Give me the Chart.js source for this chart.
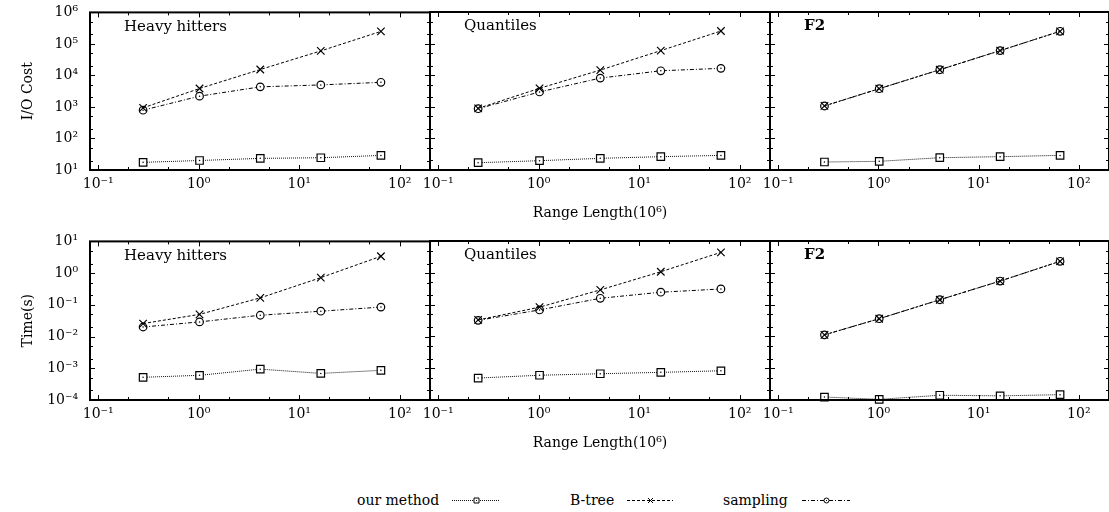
<!DOCTYPE html>
<html><head><meta charset="utf-8">
<script src="https://cdn.jsdelivr.net/npm/chart.js@4.4.1/dist/chart.umd.min.js"></script>
<style>
html,body{margin:0;padding:0;background:#fff;overflow:hidden;width:1109px;height:512px;}
#wrap{position:relative;width:1109px;height:512px;overflow:hidden;background:#fff;}
.pan{position:absolute;}
.leg{position:absolute;font-family:"DejaVu Serif",serif;font-size:14px;line-height:16px;color:#000;white-space:nowrap;}
</style></head><body><div id="wrap"></div>
<script>
// ---- data ----
const seriesNames = ['our method', 'B-tree', 'sampling'];
const panelNames = ['Heavy hitters', 'Quantiles', 'F2'];
const rowTitles = ['I/O Cost', 'Time(s)'];
const xTitle = 'Range Length(10⁶)';

const hhX = [0.28, 1.02, 4.1, 16.4, 65];
const qX  = [0.25, 1.02, 4.1, 16.4, 65];
const f2X = [0.29, 1.02, 4.1, 16.4, 65];

const hhIoOur      = [17.5, 20, 23.4, 24.5, 29];
const hhIoBtree    = [940, 3850, 15400, 60000, 250000];
const hhIoSampling = [790, 2200, 4350, 5000, 6050];
const qIoOur       = [17, 19.7, 23.4, 26.4, 29];
const qIoBtree     = [890, 3850, 14500, 60000, 250000];
const qIoSampling  = [870, 2950, 8100, 13800, 16500];
const f2IoOur      = [17.9, 18.8, 24.5, 26.4, 29];
const f2IoBtree    = [1070, 3740, 14900, 60000, 245000];
const f2IoSampling = [1060, 3740, 14900, 60000, 245000];

const hhTimeOur      = [0.00052, 0.0006, 0.00094, 0.00069, 0.00086];
const hhTimeBtree    = [0.0257, 0.05, 0.166, 0.72, 3.4];
const hhTimeSampling = [0.020, 0.029, 0.047, 0.063, 0.085];
const qTimeOur       = [0.00049, 0.0006, 0.00067, 0.00074, 0.00083];
const qTimeBtree     = [0.033, 0.083, 0.29, 1.08, 4.4];
const qTimeSampling  = [0.032, 0.068, 0.158, 0.245, 0.31];
const f2TimeOur      = [0.000124, 0.000105, 0.000141, 0.000135, 0.000147];
const f2TimeBtree    = [0.0112, 0.036, 0.142, 0.55, 2.3];
const f2TimeSampling = [0.0112, 0.036, 0.142, 0.55, 2.3];

const xTickValues = [0.1, 1, 10, 100];
const xTickLabels = ['10⁻¹', '10⁰', '10¹', '10²'];
const ioTickValues = [10, 100, 1000, 10000, 100000, 1000000];
const ioTickLabels = ['10¹', '10²', '10³', '10⁴', '10⁵', '10⁶'];
const timeTickValues = [0.0001, 0.001, 0.01, 0.1, 1, 10];
const timeTickLabels = ['10⁻⁴', '10⁻³', '10⁻²', '10⁻¹', '10⁰', '10¹'];

// ---- styles ----
const FONT = '"DejaVu Serif", serif';
const styles = [
  { dash: [1, 1], point: 'rect', radius: 5.3, color: '#111', dot: true },
  { dash: [3, 2], point: 'crossRot', radius: 5.3, color: '#000', dot: false },
  { dash: [4, 2, 1, 2], point: 'circle', radius: 3.8, color: '#000', dot: true }
];

function minorVals(lo, hi) {
  const out = [];
  for (let e = Math.floor(Math.log10(lo)); e <= Math.ceil(Math.log10(hi)); e++) {
    [2, 5].forEach(k => { const v = k * Math.pow(10, e); if (v > lo * 1.0001 && v < hi * 0.9999) out.push(v); });
  }
  return out;
}

const dotPlugin = {
  id: 'dots',
  afterDatasetsDraw(chart) {
    const ctx = chart.ctx;
    ctx.save(); ctx.fillStyle = '#000';
    chart.data.datasets.forEach((ds, i) => {
      if (!styles[i].dot) return;
      chart.getDatasetMeta(i).data.forEach(el => {
        ctx.beginPath(); ctx.arc(el.x, el.y, 0.75, 0, Math.PI * 2); ctx.fill();
      });
    });
    ctx.restore();
  }
};

const framePlugin = {
  id: 'frame',
  afterDraw(chart) {
    const { ctx, chartArea: a, scales: { x, y } } = chart;
    const o = chart.options.plugins.frame;
    ctx.save();
    ctx.strokeStyle = '#000'; ctx.lineWidth = 1;
    ctx.beginPath();
    const tx = (v, L) => { const p = Math.round(x.getPixelForValue(v)) + 0.5; if (p < a.left || p > a.right) return;
      ctx.moveTo(p, a.bottom); ctx.lineTo(p, a.bottom - L); ctx.moveTo(p, a.top); ctx.lineTo(p, a.top + L); };
    const ty = (v, L) => { const p = Math.round(y.getPixelForValue(v)) + 0.5; if (p < a.top || p > a.bottom) return;
      ctx.moveTo(a.left, p); ctx.lineTo(a.left + L, p); ctx.moveTo(a.right, p); ctx.lineTo(a.right - L, p); };
    xTickValues.forEach(v => tx(v, 5));
    minorVals(x.min, x.max).forEach(v => tx(v, 3));
    o.yMajor.forEach(v => ty(v, 5));
    minorVals(y.min, y.max).forEach(v => ty(v, 3));
    ctx.stroke();
    ctx.lineWidth = 2;
    ctx.strokeRect(a.left, a.top, a.right - a.left, a.bottom - a.top);
    ctx.fillStyle = '#000';
    ctx.font = (o.bold ? 'bold ' : '') + '15px ' + FONT;
    ctx.textBaseline = 'middle'; ctx.textAlign = 'left';
    ctx.fillText(o.name, a.left + 34, a.top + 14.5);
    ctx.restore();
  }
};

const wrap = document.getElementById('wrap');
const cols = [{ l: 90, r: 430 }, { l: 430, r: 770 }, { l: 770, r: 1109 }];
const rows = [{ t: 12, b: 170 }, { t: 241, b: 400 }];
const PT = 10, PB = 60, PR = 20;

const panels = [
  { r: 0, c: 0, x: hhX, d: [hhIoOur, hhIoBtree, hhIoSampling] },
  { r: 0, c: 1, x: qX,  d: [qIoOur, qIoBtree, qIoSampling] },
  { r: 0, c: 2, x: f2X, d: [f2IoOur, f2IoBtree, f2IoSampling] },
  { r: 1, c: 0, x: hhX, d: [hhTimeOur, hhTimeBtree, hhTimeSampling] },
  { r: 1, c: 1, x: qX,  d: [qTimeOur, qTimeBtree, qTimeSampling] },
  { r: 1, c: 2, x: f2X, d: [f2TimeOur, f2TimeBtree, f2TimeSampling] }
];

function makeChart(p, W, H, PL) {
  const cv = document.createElement('canvas');
  cv.className = 'pan'; cv.width = W; cv.height = H;
  cv.style.width = W + 'px'; cv.style.height = H + 'px';
  cv.style.left = '0px'; cv.style.top = '0px';
  wrap.appendChild(cv);
  const yVals = p.r === 0 ? ioTickValues : timeTickValues;
  const yLabs = p.r === 0 ? ioTickLabels : timeTickLabels;
  const font = { family: FONT, size: 14, lineHeight: 1.2 };
  const chart = new Chart(cv, {
    type: 'line',
    data: {
      datasets: p.d.map((vals, i) => ({
        label: seriesNames[i],
        data: vals.map((v, k) => ({ x: p.x[k], y: v })),
        borderColor: styles[i].color, borderWidth: 1, borderDash: styles[i].dash,
        pointStyle: styles[i].point, pointRadius: styles[i].radius, pointHoverRadius: styles[i].radius,
        pointBorderColor: '#000', pointBackgroundColor: '#fff', pointBorderWidth: 1.2,
        fill: false, tension: 0, clip: false
      }))
    },
    options: {
      responsive: false, animation: false, devicePixelRatio: 1,
      events: [],
      layout: { padding: { left: 0, top: PT, right: PR, bottom: 0 } },
      plugins: {
        legend: { display: false }, tooltip: { enabled: false },
        frame: { name: panelNames[p.c], bold: p.c === 2, yMajor: yVals }
      },
      scales: {
        x: {
          type: 'logarithmic', min: 0.083, max: 200,
          afterBuildTicks: s => { s.ticks = xTickValues.map(v => ({ value: v })); },
          afterFit: s => { s.height = PB; },
          grid: { display: false, drawTicks: false }, border: { display: false },
          ticks: { autoSkip: false, maxRotation: 0, minRotation: 0, padding: 6, color: '#000', font,
                   callback: (v, i) => xTickLabels[i] },
          title: { display: p.c === 1, text: xTitle, color: '#000', font, padding: { top: 0, bottom: 8.6 } }
        },
        y: {
          type: 'logarithmic', min: yVals[0], max: yVals[yVals.length - 1],
          afterBuildTicks: s => { s.ticks = yVals.map(v => ({ value: v })); },
          afterFit: s => { s.width = PL; },
          grid: { display: false, drawTicks: false }, border: { display: false },
          ticks: { display: p.c === 0, autoSkip: false, padding: 12, color: '#000', font,
                   callback: (v, i) => yLabs[i] },
          title: { display: p.c === 0, text: rowTitles[p.r], color: '#000', font, padding: { top: 19.6, bottom: 0 } }
        }
      }
    },
    plugins: [dotPlugin, framePlugin]
  });
  return { cv, chart };
}

panels.forEach(p => {
  const col = cols[p.c], row = rows[p.r];
  const PL = p.c === 0 ? 90 : 20;
  const wantW = col.r - col.l, wantH = row.b - row.t;
  let W = PL + wantW + PR, H = PT + wantH + PB;
  let res = makeChart(p, W, H, PL);
  let a = res.chart.chartArea;
  const dw = wantW - (a.right - a.left), dh = wantH - (a.bottom - a.top);
  if (Math.abs(dw) > 0.01 || Math.abs(dh) > 0.01) {
    res.chart.destroy(); res.cv.remove();
    W += Math.round(dw); H += Math.round(dh);
    res = makeChart(p, W, H, PL);
    a = res.chart.chartArea;
  }
  res.cv.style.left = (col.l - a.left) + 'px';
  res.cv.style.top = (row.t - a.top) + 'px';
});

// ---- legend (HTML text + key samples) ----
const legendItems = [
  { tx: 357, sx: 452, sw: 48, i: 0 },
  { tx: 570, sx: 627, sw: 46, i: 1 },
  { tx: 723, sx: 802, sw: 48, i: 2 }
];
legendItems.forEach(it => {
  const s = document.createElement('div');
  s.className = 'leg'; s.textContent = seriesNames[it.i];
  s.style.left = it.tx + 'px'; s.style.top = '492px';
  wrap.appendChild(s);
  const c = document.createElement('canvas');
  c.width = it.sw; c.height = 12; c.className = 'pan';
  c.style.left = it.sx + 'px'; c.style.top = '494px';
  wrap.appendChild(c);
  const g = c.getContext('2d');
  g.strokeStyle = styles[it.i].color; g.lineWidth = 1; g.setLineDash(styles[it.i].dash);
  g.beginPath(); g.moveTo(0, 6.5); g.lineTo(it.sw, 6.5); g.stroke();
  g.setLineDash([]);
  const cx = Math.round(it.sw / 2) + 0.5, cy = 6.5, h = 2.5;
  g.strokeStyle = '#000'; g.fillStyle = '#fff'; g.lineWidth = 1;
  g.beginPath();
  if (styles[it.i].point === 'rect') { g.rect(cx - h, cy - h, 2 * h, 2 * h); g.fill(); g.stroke(); }
  else if (styles[it.i].point === 'circle') { g.arc(cx, cy, h, 0, Math.PI * 2); g.fill(); g.stroke(); }
  else { g.moveTo(cx - h, cy - h); g.lineTo(cx + h, cy + h); g.moveTo(cx + h, cy - h); g.lineTo(cx - h, cy + h); g.stroke(); }
  if (styles[it.i].dot) { g.fillStyle = '#000'; g.fillRect(cx - 0.5, cy - 0.5, 1, 1); }
});
</script></body></html>
